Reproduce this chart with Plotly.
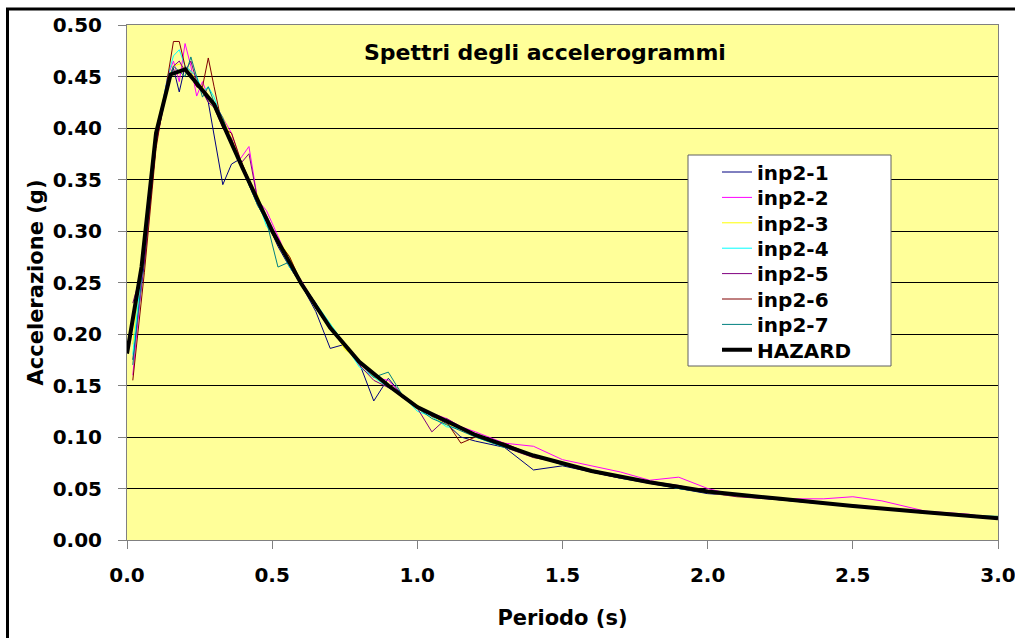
import plotly.graph_objects as go

# ---------------- data ----------------
T_hazard = [0.0, 0.05, 0.10, 0.15, 0.20, 0.25, 0.30, 0.40, 0.50, 0.60, 0.70, 0.80, 0.90,
            1.00, 1.20, 1.40, 1.60, 1.80, 2.00, 2.25, 2.50, 2.75, 3.00]
hazard = [0.181, 0.265, 0.395, 0.452, 0.457, 0.440, 0.423, 0.360, 0.300, 0.249, 0.206, 0.173,
          0.150, 0.129, 0.102, 0.082, 0.067, 0.056, 0.047, 0.040, 0.033, 0.027, 0.021]

T_inp = [0.02, 0.06, 0.10, 0.14, 0.16, 0.18, 0.20, 0.22, 0.24, 0.26, 0.28, 0.30, 0.33, 0.36,
         0.39, 0.42, 0.45, 0.48, 0.52, 0.56, 0.60, 0.65, 0.70, 0.75, 0.80, 0.85, 0.90, 0.95,
         1.00, 1.05, 1.10, 1.15, 1.20, 1.30, 1.40, 1.50, 1.60, 1.70, 1.80, 1.90, 2.00, 2.10,
         2.25, 2.40, 2.50, 2.60, 2.75, 2.90, 3.00]

inp2_1 = [0.175, 0.270, 0.385, 0.445, 0.458, 0.435, 0.460, 0.455, 0.440, 0.437, 0.425, 0.392,
          0.345, 0.365, 0.370, 0.345, 0.325, 0.310, 0.285, 0.265, 0.248, 0.222, 0.186, 0.190,
          0.172, 0.135, 0.157, 0.140, 0.128, 0.120, 0.113, 0.100, 0.096, 0.090, 0.068, 0.072,
          0.066, 0.060, 0.055, 0.050, 0.045, 0.043, 0.039, 0.035, 0.033, 0.030, 0.027, 0.024, 0.022]
inp2_2 = [0.160, 0.280, 0.390, 0.450, 0.465, 0.445, 0.482, 0.460, 0.431, 0.445, 0.430, 0.425,
          0.410, 0.395, 0.370, 0.382, 0.330, 0.320, 0.295, 0.270, 0.252, 0.228, 0.205, 0.190,
          0.172, 0.158, 0.155, 0.140, 0.130, 0.123, 0.118, 0.110, 0.105, 0.094, 0.091, 0.078,
          0.072, 0.066, 0.058, 0.061, 0.050, 0.043, 0.040, 0.040, 0.042, 0.038, 0.028, 0.025, 0.020]
inp2_3 = [0.190, 0.300, 0.400, 0.445, 0.460, 0.462, 0.458, 0.455, 0.445, 0.440, 0.432, 0.420,
          0.410, 0.390, 0.370, 0.350, 0.335, 0.310, 0.292, 0.275, 0.250, 0.225, 0.210, 0.185,
          0.175, 0.158, 0.150, 0.138, 0.131, 0.120, 0.112, 0.110, 0.100, 0.092, 0.080, 0.075,
          0.067, 0.062, 0.055, 0.052, 0.046, 0.042, 0.040, 0.036, 0.033, 0.030, 0.026, 0.024, 0.021]
inp2_4 = [0.180, 0.290, 0.390, 0.450, 0.470, 0.476, 0.460, 0.455, 0.450, 0.435, 0.440, 0.430,
          0.405, 0.385, 0.370, 0.345, 0.330, 0.305, 0.290, 0.265, 0.250, 0.230, 0.210, 0.190,
          0.168, 0.158, 0.148, 0.140, 0.125, 0.120, 0.110, 0.108, 0.100, 0.090, 0.083, 0.073,
          0.068, 0.060, 0.056, 0.050, 0.047, 0.043, 0.040, 0.036, 0.033, 0.031, 0.027, 0.024, 0.022]
inp2_5 = [0.230, 0.270, 0.385, 0.440, 0.460, 0.465, 0.455, 0.465, 0.445, 0.435, 0.425, 0.420,
          0.400, 0.390, 0.365, 0.375, 0.330, 0.315, 0.292, 0.270, 0.250, 0.230, 0.205, 0.190,
          0.170, 0.155, 0.148, 0.140, 0.128, 0.105, 0.118, 0.110, 0.103, 0.090, 0.080, 0.075,
          0.066, 0.060, 0.057, 0.053, 0.046, 0.042, 0.039, 0.035, 0.034, 0.031, 0.027, 0.024, 0.021]
inp2_6 = [0.155, 0.260, 0.380, 0.450, 0.484, 0.484, 0.460, 0.450, 0.440, 0.440, 0.468, 0.440,
          0.400, 0.395, 0.370, 0.350, 0.330, 0.310, 0.290, 0.275, 0.250, 0.225, 0.205, 0.190,
          0.172, 0.160, 0.150, 0.138, 0.130, 0.120, 0.115, 0.094, 0.100, 0.094, 0.082, 0.074,
          0.068, 0.062, 0.056, 0.052, 0.047, 0.043, 0.040, 0.036, 0.033, 0.030, 0.026, 0.024, 0.022]
inp2_7 = [0.170, 0.280, 0.390, 0.445, 0.460, 0.455, 0.450, 0.469, 0.450, 0.430, 0.440, 0.425,
          0.410, 0.385, 0.365, 0.345, 0.325, 0.310, 0.265, 0.270, 0.250, 0.225, 0.205, 0.190,
          0.172, 0.158, 0.163, 0.140, 0.128, 0.118, 0.112, 0.106, 0.100, 0.090, 0.082, 0.073,
          0.067, 0.061, 0.056, 0.050, 0.046, 0.043, 0.039, 0.035, 0.033, 0.031, 0.027, 0.024, 0.023]

series_names = ["inp2-1", "inp2-2", "inp2-3", "inp2-4", "inp2-5", "inp2-6", "inp2-7"]
series_values = [inp2_1, inp2_2, inp2_3, inp2_4, inp2_5, inp2_6, inp2_7]
series_colors = ["#000080", "#FF00FF", "#FFFF00", "#00FFFF", "#800080", "#800000", "#008080"]

x_ticks = [0.0, 0.5, 1.0, 1.5, 2.0, 2.5, 3.0]
y_ticks = [0.00, 0.05, 0.10, 0.15, 0.20, 0.25, 0.30, 0.35, 0.40, 0.45, 0.50]

FONT = "DejaVu Sans, Verdana, sans-serif"

# ---------------- geometry ----------------
W, H = 1015, 638
L, R, TOP, B = 127, 17, 25, 98
pw, ph = W - L - R, H - TOP - B
plot_bottom = H - B

def px_x(x):
    return (x - L) / pw

def px_y(y):
    return (plot_bottom - y) / ph

# legend layout (pixels)
LEG_BOX = (688, 155, 891, 366)
LEG_LEFT = 717
LEG_FIRST = 172
LEG_STEP = 25.4

# ---------------- figure ----------------
fig = go.Figure()
all_names = series_names + ["HAZARD"]
legend_ids = ["legend"] + [f"legend{i}" for i in range(2, len(all_names) + 1)]

for k, (name, vals, col) in enumerate(zip(series_names, series_values, series_colors)):
    fig.add_trace(go.Scatter(x=T_inp, y=vals, mode="lines", name=name,
                             line=dict(color=col, width=1), legend=legend_ids[k]))
fig.add_trace(go.Scatter(x=T_hazard, y=hazard, mode="lines", name="HAZARD",
                         line=dict(color="#000000", width=4), legend=legend_ids[-1]))

legend_layouts = {}
for k, lid in enumerate(legend_ids):
    legend_layouts[lid] = dict(
        x=px_x(LEG_LEFT), y=px_y(LEG_FIRST + k * LEG_STEP),
        xanchor="left", yanchor="middle",
        bgcolor="rgba(0,0,0,0)", borderwidth=0,
        font=dict(family=FONT, size=20, color="#000000", weight="bold"),
        itemwidth=30,
    )

fig.update_layout(
    width=W, height=H,
    margin=dict(l=L, r=R, t=TOP, b=B, autoexpand=False),
    paper_bgcolor="#FFFFFF",
    plot_bgcolor="#FFFF99",
    font=dict(family=FONT, size=20, color="#000000"),
    showlegend=True,
    **legend_layouts,
    annotations=[
        dict(text="Spettri degli accelerogrammi", x=px_x(545), y=px_y(52),
             xref="paper", yref="paper", showarrow=False, xanchor="center", yanchor="middle",
             font=dict(family=FONT, size=22, color="#000000", weight="bold")),
    ],
    shapes=[
        # legend box
        dict(type="rect", xref="paper", yref="paper",
             x0=px_x(LEG_BOX[0]), x1=px_x(LEG_BOX[2]),
             y0=px_y(LEG_BOX[3]), y1=px_y(LEG_BOX[1]),
             line=dict(color="#606060", width=1), fillcolor="#FFFFFF", layer="above"),
        # outer chart border
        dict(type="rect", xref="paper", yref="paper",
             x0=px_x(7.5), x1=1.5, y0=-0.5, y1=px_y(9),
             line=dict(color="#000000", width=3), fillcolor="rgba(0,0,0,0)", layer="above"),
    ],
)

fig.update_xaxes(
    range=[0, 3], tickvals=x_ticks, ticktext=[f"{v:.1f}" for v in x_ticks],
    showgrid=False, zeroline=False, automargin=False,
    showline=True, linecolor="#808080", linewidth=1, mirror=True,
    ticks="outside", ticklen=8, tickcolor="#808080", tickwidth=1,
    ticklabelstandoff=9, ticklabeloverflow="allow",
    tickfont=dict(family=FONT, size=20, color="#000000", weight="bold"),
    title=dict(text="Periodo (s)", standoff=24,
               font=dict(family=FONT, size=21, color="#000000", weight="bold")),
)
fig.update_yaxes(
    range=[0, 0.5], tickvals=y_ticks, ticktext=[f"{v:.2f}" for v in y_ticks],
    showgrid=True, gridcolor="#000000", gridwidth=1, zeroline=False, automargin=False,
    showline=True, linecolor="#808080", linewidth=1, mirror=True,
    ticks="outside", ticklen=8, tickcolor="#808080", tickwidth=1,
    ticklabelstandoff=12, ticklabeloverflow="allow",
    tickfont=dict(family=FONT, size=20, color="#000000", weight="bold"),
    title=dict(text="Accelerazione (g)", standoff=3,
               font=dict(family=FONT, size=21, color="#000000", weight="bold")),
)

fig.write_html("out.html", config={"displayModeBar": False},
               post_script="document.body.style.margin='0px';")
